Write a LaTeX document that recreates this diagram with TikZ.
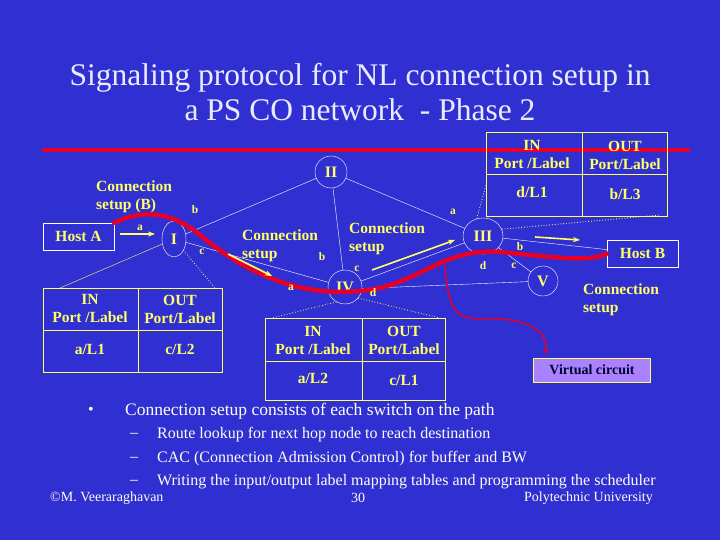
\documentclass[tikz,border=0pt]{standalone}
\usepackage{fontspec}
\setmainfont{Liberation Serif}
\usetikzlibrary{shapes.geometric,arrows.meta}
\definecolor{bg}{RGB}{48,48,210}
\definecolor{yl}{RGB}{255,255,102}
\definecolor{rd}{RGB}{230,0,40}
\definecolor{lav}{RGB}{170,130,255}
\tikzset{
  lbl/.style={text=yl,font=\bfseries\fontsize{15.5}{18}\selectfont,align=center,inner sep=0pt},
  sm/.style={text=yl,font=\bfseries\fontsize{11.5}{12}\selectfont,inner sep=0pt},
  sw/.style={draw=white,thin,ellipse,text=yl,font=\bfseries\fontsize{16}{18}\selectfont,inner sep=0pt},
  hostbox/.style={draw=white,thin,text=yl,font=\bfseries\fontsize{15.5}{18}\selectfont,minimum width=71pt,minimum height=27pt,inner sep=0pt},
  link/.style={white,thin},
  tbl/.style={yl,semithick},
  dot/.style={yl,thick,dotted},
  yarr/.style={yl,line width=1.6pt,-{Stealth[length=7pt]}},
  body/.style={text=white!95!yellow,font=\fontsize{16}{18}\selectfont,anchor=west,inner sep=0pt},
  foot/.style={text=white!95!yellow,font=\fontsize{14}{16}\selectfont,inner sep=0pt}
}
\begin{document}
\begin{tikzpicture}[x=1pt,y=-1pt]
\fill[bg] (0,0) rectangle (720,540);
\useasboundingbox (0,0) rectangle (720,540);
\node[text=white!92!blue,font=\fontsize{31.5}{35}\selectfont,align=center] (title) at (360,92) {Signaling protocol for NL connection setup in\\a PS CO network\ \ - Phase 2};
\coordinate (rl) at (42,150); \coordinate (rr) at (690,150);
\draw[rd,line width=4pt] (rl) -- (rr);
% tables
\draw[tbl] (43,288) rectangle (222,372) (138,288) -- (138,372) (43,330) -- (222,330);
\node[lbl] (ta1) at (90,309) {IN\\Port /Label};
\node[lbl] (ta2) at (180,309) {OUT\\Port/Label};
\node[lbl] (ta3) at (90,349) {a/L1};
\node[lbl] (ta4) at (180,349) {c/L2};
\draw[tbl] (265,318) rectangle (445,400) (362,318) -- (362,400) (265,361) -- (445,361);
\node[lbl] (tb1) at (313,340) {IN\\Port /Label};
\node[lbl] (tb2) at (404,340) {OUT\\Port/Label};
\node[lbl] (tb3) at (313,378) {a/L2};
\node[lbl] (tb4) at (404,380) {c/L1};
\draw[tbl] (486,132) rectangle (667,216) (582,132) -- (582,216) (486,174) -- (667,174);
\node[lbl] (tc1) at (532,155) {IN\\Port /Label};
\node[lbl] (tc2) at (625,155) {OUT\\Port/Label};
\node[lbl] (tc3) at (532,192) {d/L1};
\node[lbl] (tc4) at (625,194) {b/L3};
% nodes
\node[hostbox] (ha) at (78.5,236.5) {Host A};
\node[hostbox] (hb) at (642.5,253.5) {Host B};
\node[sw,minimum width=24pt,minimum height=36pt] (s1) at (174,239) {I};
\node[sw,circle,minimum size=32pt] (s2) at (331,172) {II};
\node[sw,minimum width=40pt,minimum height=36pt] (s3) at (483,236) {III};
\node[sw,circle,minimum size=34pt] (s4) at (345,287) {IV};
\node[sw,circle,minimum size=30pt] (s5) at (543,281) {V};
% links
\draw[link] (s1) -- (s2);
\draw[link] (s1) -- (s4);
\draw[link] (s2) -- (s4);
\draw[link] (s2) -- (s3);
\draw[link] (s4) -- (s3);
\draw[link] (s4.-5) -- (s5);
\draw[link] (s3) -- (s5);
\draw[link] (s3) -- (hb);
% yellow table connectors
\draw[tbl,thin] (s1) -- (60,288);
\draw[dot] (s1.-50) -- (215,288);
\draw[dot] (s4.-120) -- (272,318);
\draw[dot] (s4.-40) -- (440,318);
\draw[dot] (s3.110) -- (486,185);
\draw[dot] (s3.20) -- (660,215);
% red path
\draw[rd,line width=4.5pt,line cap=round] (ha.north east) .. controls (140,210) and (170,210) .. (200,235) .. controls (260,285) and (320,300) .. (380,288) .. controls (430,275) and (450,245) .. (510,253) .. controls (560,258) and (590,262) .. (hb.west);
\coordinate (vc0) at (445,265);
\node[draw=yl,fill=lav,text=black!80!blue,font=\bfseries\fontsize{14}{16}\selectfont,minimum width=117pt,minimum height=24pt,inner sep=0pt] (vc) at (592,370) {Virtual circuit};
\draw[rd,line width=1.5pt,-{Stealth[length=6pt]}] (vc0) .. controls (450,340) and (470,310) .. (520,322) .. controls (545,330) and (546,340) .. (546,355);
% yellow arrows
\draw[yarr] (120,234) -- (155,234);
\draw[yarr] (228,254) -- (272,276);
\draw[yarr] (372,270) -- (455,240);
\draw[yarr] (535,237) -- (580,240);
% small labels
\node[sm] (la1) at (140,228) {a};
\node[sm] (lb1) at (195,210) {b};
\node[sm] (lc1) at (202,252) {c};
\node[sm] (lb4) at (322,257) {b};
\node[sm] (lc4) at (357,269) {c};
\node[sm] (la4) at (291,288) {a};
\node[sm] (ld4) at (373,293) {d};
\node[sm] (la3) at (453,212) {a};
\node[sm] (lb3) at (520,247) {b};
\node[sm] (ld3) at (483,266) {d};
\node[sm] (lc3) at (514,266) {c};
% connection setup labels
\node[lbl,align=left,anchor=west] (cs1) at (96,197) {Connection\\setup (B)};
\node[lbl,align=left,anchor=west] (cs2) at (242,246) {Connection\\setup};
\node[lbl,align=left,anchor=west] (cs3) at (349,239) {Connection\\setup};
\node[lbl,align=left,anchor=west] (cs4) at (583,300) {Connection\\setup};
% body
\node[body] (bu) at (88,411) {\textbullet};
\node[body,font=\fontsize{17.5}{20}\selectfont] (t1) at (125,411) {Connection setup consists of each switch on the path};
\node[body] (d1) at (130,435) {--}; \node[body] (t2) at (157,435) {Route lookup for next hop node to reach destination};
\node[body] (d2) at (130,459) {--}; \node[body] (t3) at (157,459) {CAC (Connection Admission Control) for buffer and BW};
\node[body] (d3) at (130,482) {--}; \node[body] (t4) at (157,482) {Writing the input/output label mapping tables and programming the scheduler};
\node[foot,anchor=west] (f1) at (50,498) {©M. Veeraraghavan};
\node[foot] (f2) at (358,498) {30};
\node[foot,anchor=east] (f3) at (653,498) {Polytechnic University};
\end{tikzpicture}
\end{document}
